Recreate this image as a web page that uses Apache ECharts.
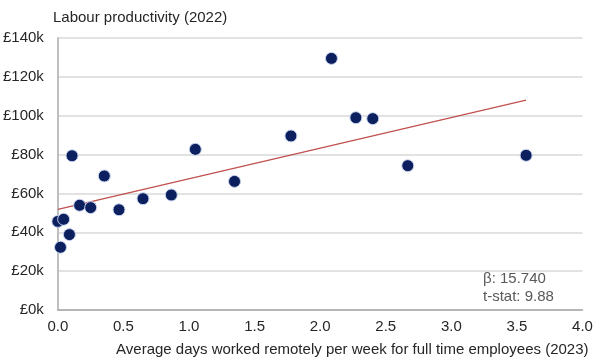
<!DOCTYPE html>
<html>
<head>
<meta charset="utf-8">
<script src="https://cdn.jsdelivr.net/npm/echarts@6/dist/echarts.min.js"></script>
<style>html,body{margin:0;padding:0;background:#fff}#c{width:600px;height:361px}</style>
</head>
<body>
<div id="c"></div>
<script>
// Average days worked remotely per week (2023)
const remoteDays = [0.0, 0.02, 0.044, 0.088, 0.108, 0.166, 0.25, 0.354, 0.466, 0.649, 0.865, 1.048, 1.347, 1.777, 2.086, 2.272, 2.401, 2.668, 3.57];
// Labour productivity (2022), £ thousands
const productivity = [45.6, 32.3, 46.7, 38.8, 79.4, 53.9, 52.7, 69.0, 51.6, 57.3, 59.2, 82.7, 66.2, 89.6, 129.5, 99.0, 98.5, 74.3, 79.6];
// Fitted trend
const trendIntercept = 51.8;
const beta = 15.740;
const tStat = 9.88;
const trendRange = [0, 3.57];
const yTicks = {min: 0, max: 140, interval: 20};
const xTicks = {min: 0, max: 4, interval: 0.5};

const points = remoteDays.map((x, i) => [x, productivity[i]]);
const trend = trendRange.map(x => [x, trendIntercept + beta * x]);

const chart = echarts.init(document.getElementById('c'), null, {renderer: 'canvas'});
const font = 'Liberation Sans, Arial, sans-serif';
chart.setOption({
  animation: false,
  textStyle: {fontFamily: font},
  grid: {left: 57.5, right: 17.5, top: 38, bottom: 51, containLabel: false},
  title: [{
    text: 'Labour productivity (2022)', left: 48, top: 5,
    textStyle: {fontSize: 15, fontWeight: 'normal', color: '#262626', fontFamily: font}
  }],
  xAxis: {
    type: 'value', min: xTicks.min, max: xTicks.max, interval: xTicks.interval,
    name: 'Average days worked remotely per week for full time employees (2023)',
    nameLocation: 'end', nameGap: 6,
    nameTextStyle: {align: 'right', verticalAlign: 'top', padding: [32, 0, 0, 0], fontSize: 15, color: '#262626'},
    axisLine: {show: true, lineStyle: {color: '#a6a6a6', width: 1.5}},
    axisTick: {show: false},
    splitLine: {show: false},
    axisLabel: {formatter: v => v.toFixed(1), fontSize: 15, color: '#262626', margin: 9}
  },
  yAxis: {
    type: 'value', min: yTicks.min, max: yTicks.max, interval: yTicks.interval,
    axisLine: {show: true, lineStyle: {color: '#bfbfbf', width: 2}},
    axisTick: {show: false},
    splitLine: {show: true, lineStyle: {color: '#d9d9d9', width: 1.5}},
    axisLabel: {formatter: '£{value}k', fontSize: 15, color: '#262626', margin: 14}
  },
  graphic: [{
    type: 'text', left: 483, top: 270,
    style: {text: 'β: ' + beta.toFixed(3) + '\nt-stat: ' + tStat.toFixed(2), fill: '#595959', font: '15px ' + font, lineHeight: 18}
  }],
  series: [{
    type: 'line', data: trend, showSymbol: false, symbol: 'none',
    lineStyle: {color: '#c0504d', width: 1.2}, z: 2, silent: true
  }, {
    type: 'scatter', data: points, symbolSize: 12,
    itemStyle: {color: '#0c1f5e', opacity: 1, borderColor: '#c6d4ef', borderWidth: 1}, z: 3
  }]
});
</script>
</body>
</html>
